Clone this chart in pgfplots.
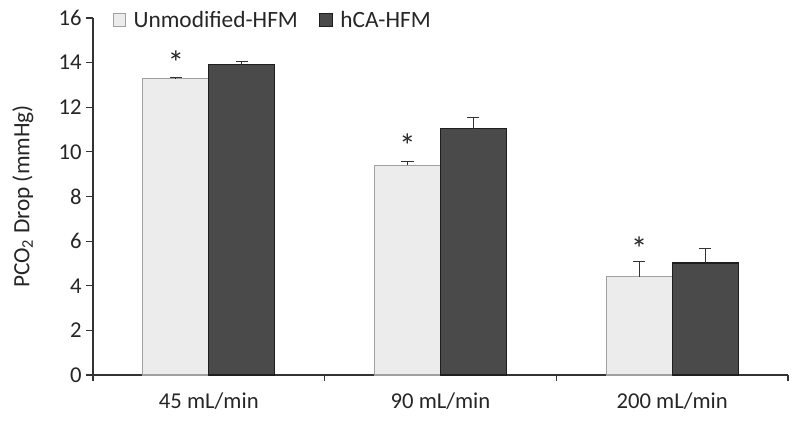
\documentclass[border=0pt]{standalone}
\usepackage{pgfplots}
\pgfplotsset{compat=1.18}
\usepackage{fontspec}
\setmainfont{Carlito}
\definecolor{lightfill}{HTML}{ECECEC}
\definecolor{lightedge}{HTML}{A0A0A0}
\definecolor{darkfill}{HTML}{4A4A4A}
\definecolor{darkedge}{HTML}{1E1E1E}
\definecolor{axisgray}{HTML}{333333}
\begin{document}
\begin{tikzpicture}
\path[use as bounding box] (0,0) rectangle (600pt,318.75pt);
\begin{axis}[
  at={(69.75pt,37.5pt)}, anchor=south west,
  scale only axis, width=521.25pt, height=267.75pt,
  ybar=0pt, bar width=49.5pt,
  xmin=-0.5, xmax=2.5, ymin=0, ymax=16,
  xtick={0,1,2}, xticklabels={45 mL/min, 90 mL/min, 200 mL/min},
  minor xtick={-0.5,0.5,1.5,2.5},
  major x tick style={draw=none},
  minor x tick style={axisgray, line width=0.8pt},
  minor tick length=4.5pt,
  ytick={0,2,...,16},
  y tick style={axisgray, line width=0.8pt},
  major tick length=5pt,
  tick align=outside,
  axis x line*=bottom, axis y line*=left,
  axis line style={axisgray, line width=0.8pt, -},
  tick label style={font=\fontsize{17}{20}\selectfont, text=black!85},
  /pgf/number format/assume math mode=true,
  ylabel={PCO\textsubscript{2} Drop (mmHg)},
  ylabel style={font=\fontsize{17.5}{20}\selectfont, text=black!85, yshift=12pt},
  xticklabel style={yshift=-5pt},
  legend style={draw=none, fill=none, at={(0.022,1.035)}, anchor=north west,
    legend columns=2, font=\fontsize{17.5}{20}\selectfont, text=black!85,
    /tikz/every even column/.append style={column sep=14pt}},
  legend image code/.code={\draw[#1, line width=0.8pt] (0pt,-4.8pt) rectangle (9.5pt,4.8pt); \path (13pt,0pt);},
  error bars/y dir=plus, error bars/y explicit,
  error bars/error mark options={rotate=90, mark size=4.5pt, line width=0.8pt, color=axisgray},
  error bars/error bar style={line width=0.8pt, color=axisgray},
]
\addplot[fill=lightfill, draw=lightedge, line width=0.8pt] coordinates {
  (0,13.27) +- (0,0.05)
  (1,9.41) +- (0,0.17)
  (2,4.41) +- (0,0.69)
};
\addplot[fill=darkfill, draw=darkedge, line width=0.8pt] coordinates {
  (0,13.90) +- (0,0.16)
  (1,11.03) +- (0,0.50)
  (2,5.02) +- (0,0.64)
};
\legend{Unmodified-HFM, hCA-HFM}
\node[font=\fontsize{25}{25}\selectfont, text=black!85] at (axis cs:-0.1425,14.0) {*};
\node[font=\fontsize{25}{25}\selectfont, text=black!85] at (axis cs:0.8575,10.3) {*};
\node[font=\fontsize{25}{25}\selectfont, text=black!85] at (axis cs:1.8575,5.65) {*};
\end{axis}
\end{tikzpicture}
\end{document}
